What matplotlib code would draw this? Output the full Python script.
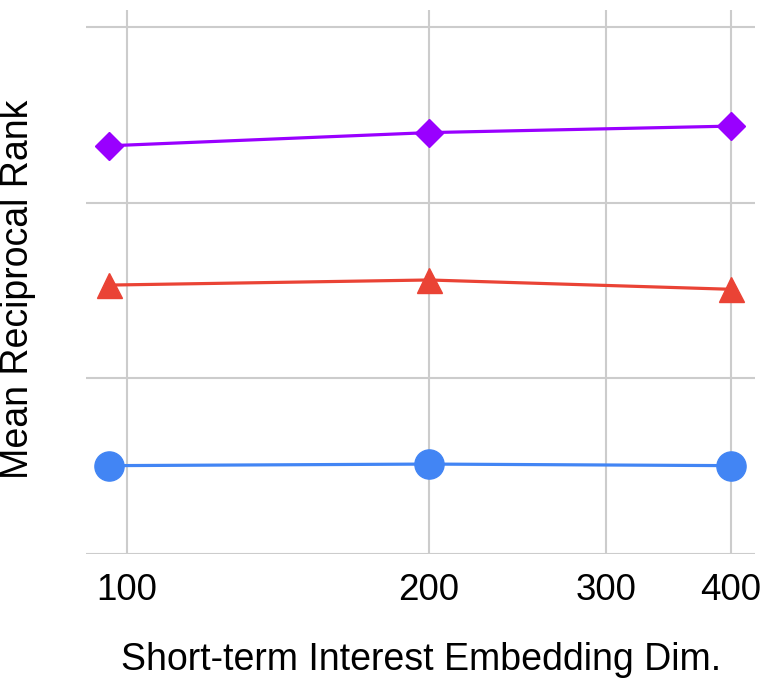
import matplotlib
matplotlib.use("Agg")
import matplotlib.pyplot as plt
from matplotlib.ticker import FixedLocator, NullLocator, NullFormatter

plt.rcParams['font.family'] = ['Liberation Sans', 'DejaVu Sans']

dims = [96, 200, 400]
purple_vals = [2.324, 2.399, 2.436]
red_vals = [1.531, 1.560, 1.507]
blue_vals = [0.503, 0.512, 0.503]
xticks = [100, 200, 300, 400]
xtick_labels = ["100", "200", "300", "400"]
ygrid = [0, 1, 2, 3]

fig = plt.figure(figsize=(7.67, 6.9), dpi=100)
ax = fig.add_axes([86/767, (690-554)/690, 669/767, 544/690])
ax.set_xscale('log')
ax.set_xlim(91.0, 422.7)
ax.set_ylim(0, 3.097)

ax.plot(dims, blue_vals, color='#4285f4', lw=2.3, marker='o', ms=21, zorder=3, clip_on=False)
ax.plot(dims, red_vals, color='#ea4335', lw=2.3, marker='^', ms=18, zorder=3, clip_on=False)
ax.plot(dims, purple_vals, color='#9900ff', lw=2.3, marker='D', ms=14.5, zorder=3, clip_on=False)

ax.xaxis.set_major_locator(FixedLocator(xticks))
ax.set_xticklabels(xtick_labels)
ax.xaxis.set_minor_locator(NullLocator())
ax.xaxis.set_minor_formatter(NullFormatter())
ax.yaxis.set_major_locator(FixedLocator(ygrid))
ax.set_yticklabels([])
ax.tick_params(axis='both', length=0, labelsize=26.5, pad=14)
ax.grid(True, color='#cccccc', lw=1.5)
ax.set_axisbelow(True)
for s in ax.spines.values():
    s.set_visible(False)

fig.text(421/767, 1 - 660/690, "Short-term Interest Embedding Dim.", fontsize=27,
         ha='center', va='center')
fig.text(18/767, 1 - 289/690, "Mean Reciprocal Rank", fontsize=27,
         ha='center', va='center', rotation=90)

fig.savefig("out.png", dpi=100)
